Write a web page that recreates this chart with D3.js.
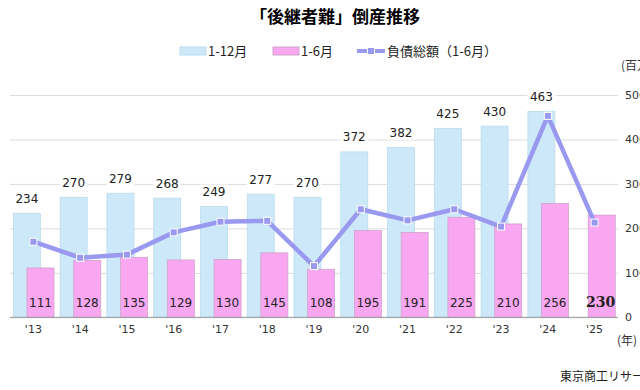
<!DOCTYPE html>
<html>
<head>
<meta charset="utf-8">
<script src="https://cdn.jsdelivr.net/npm/d3@7"></script>
<style>
  body { margin: 0; background: #fff; }
  svg { display: block; font-family: "Noto Sans CJK JP", "DejaVu Sans", sans-serif; }
</style>
</head>
<body>
<svg id="chart" width="640" height="390"></svg>
<script>
// data
var years = ["'13", "'14", "'15", "'16", "'17", "'18", "'19", "'20", "'21", "'22", "'23", "'24", "'25"];
var full_year = [234, 270, 279, 268, 249, 277, 270, 372, 382, 425, 430, 463, null];
var half_year = [111, 128, 135, 129, 130, 145, 108, 195, 191, 225, 210, 256, 230];
var debt_half = [17000, 13400, 14100, 19100, 21500, 21700, 11500, 24300, 21800, 24300, 20400, 45300, 21300];
var right_ticks = [0, 10000, 20000, 30000, 40000, 50000];

var colors = { blue: "#cde9f9", blue_edge: "#b9dcef", pink: "#f9a7f1", pink_edge: "#cfa3cc", line: "#9999f0" };

var svg = d3.select("#chart");
var left = 10, right = 618, top_y = 95, base_y = 317.3;

// scales
var x = d3.scaleBand().domain(years).range([left, right]).padding(0);
var y = d3.scaleLinear().domain([0, 500]).range([base_y, top_y]);
var y2 = d3.scaleLinear().domain([0, 50000]).range([base_y, top_y]);

// ==================================================
// title
svg.append("text")
   .attr("x", 335).attr("y", 23)
   .attr("text-anchor", "middle")
   .style("font-size", "17px").style("font-weight", "bold")
   .text("「後継者難」倒産推移");

// ==================================================
// legend
var lg = svg.append("g").style("font-size", "13px").style("fill", "#222");
lg.append("rect").attr("x", 180).attr("y", 47).attr("width", 26).attr("height", 8)
  .style("fill", colors.blue).style("stroke", colors.blue_edge);
lg.append("text").attr("x", 208).attr("y", 56).text("1-12月");
lg.append("rect").attr("x", 273).attr("y", 47).attr("width", 26).attr("height", 8)
  .style("fill", colors.pink).style("stroke", colors.pink_edge);
lg.append("text").attr("x", 301).attr("y", 56).text("1-6月");
lg.append("line").attr("x1", 357).attr("x2", 385).attr("y1", 51).attr("y2", 51)
  .style("stroke", colors.line).style("stroke-width", 4);
lg.append("rect").attr("x", 367.5).attr("y", 47.5).attr("width", 7).attr("height", 7)
  .style("fill", colors.line).style("stroke", "#fff");
lg.append("text").attr("x", 387).attr("y", 56).text("負債総額（1-6月）");

// ==================================================
// grid lines + right axis
var y_axis = svg.append("g")
  .attr("transform", "translate(" + right + ",0)")
  .call(d3.axisRight(y2).tickValues(right_ticks).tickSize(-(right - left)).tickPadding(7).tickFormat(d3.format("d")));
y_axis.select(".domain").remove();
y_axis.selectAll(".tick line").style("stroke", "#dcdcdc");
y_axis.selectAll(".tick text").style("font-family", "DejaVu Sans, sans-serif").style("font-size", "11px").style("fill", "#333");

svg.append("text").attr("x", 621).attr("y", 70).style("font-size", "12px").style("fill", "#333").text("(百万円)");

// ==================================================
// bars
var bw = 27;
var groups = svg.selectAll(".bar").data(years).enter().append("g").attr("class", "bar");

groups.filter(function(d, i) { return full_year[i] != null; })
  .append("rect")
  .attr("x", function(d) { return x(d) + 3.4; })
  .attr("y", function(d) { return y(full_year[years.indexOf(d)]); })
  .attr("width", bw)
  .attr("height", function(d) { return base_y - y(full_year[years.indexOf(d)]); })
  .style("fill", colors.blue).style("stroke", colors.blue_edge).style("stroke-width", 0.8);

groups.append("rect")
  .attr("x", function(d) { return x(d) + 17; })
  .attr("y", function(d, i) { return y(half_year[i]); })
  .attr("width", bw)
  .attr("height", function(d, i) { return base_y - y(half_year[i]); })
  .style("fill", colors.pink).style("stroke", colors.pink_edge).style("stroke-width", 0.8);

// x baseline
svg.append("line").attr("x1", left).attr("x2", right).attr("y1", base_y).attr("y2", base_y)
   .style("stroke", "#999").style("stroke-width", 1);

// ==================================================
// labels for 1-12 bars (white box behind, cuts gridlines)
var lab = svg.append("g").style("font-family", "DejaVu Sans, sans-serif").style("font-size", "12px");
years.forEach(function(d, i) {
  if (full_year[i] == null) return;
  var cx = x(d) + 3.4 + bw / 2;
  var cy = y(full_year[i]) - 15;
  lab.append("rect").attr("x", cx - 14).attr("y", cy - 7).attr("width", 28).attr("height", 14).style("fill", "#fff");
  lab.append("text").attr("x", cx).attr("y", cy + 4.5).attr("text-anchor", "middle").style("fill", "#222").text(full_year[i]);
});

// labels inside 1-6 bars
years.forEach(function(d, i) {
  var cx = x(d) + 17 + bw / 2;
  var last = i == years.length - 1;
  lab.append("text").attr("x", last ? cx - 1 : cx).attr("y", 307)
     .attr("text-anchor", "middle")
     .style("fill", "#222")
     .style("font-family", last ? "DejaVu Serif, serif" : null)
     .style("font-weight", last ? "bold" : null)
     .style("font-size", last ? "14px" : null)
     .text(half_year[i]);
});

// ==================================================
// debt line
var line = d3.line()
  .x(function(d, i) { return x(years[i]) + x.bandwidth() / 2; })
  .y(function(d) { return y2(d); });

svg.append("path").datum(debt_half).attr("d", line)
   .style("fill", "none").style("stroke", colors.line).style("stroke-width", 4.5).style("stroke-linejoin", "round");

svg.selectAll(".pt").data(debt_half).enter().append("rect")
   .attr("class", "pt")
   .attr("x", function(d, i) { return x(years[i]) + x.bandwidth() / 2 - 3.5; })
   .attr("y", function(d) { return y2(d) - 3.5; })
   .attr("width", 7).attr("height", 7)
   .style("fill", colors.line).style("stroke", "#fff").style("stroke-width", 1);

// ==================================================
// x axis labels
var x_axis = svg.append("g")
  .attr("transform", "translate(0," + base_y + ")")
  .call(d3.axisBottom(x).tickSize(0).tickPadding(8));
x_axis.select(".domain").remove();
x_axis.selectAll("text").style("font-family", "DejaVu Sans, sans-serif").style("font-size", "11px").style("fill", "#333");

svg.append("text").attr("x", 617).attr("y", 345).style("font-size", "12px").style("fill", "#333").text("(年)");
svg.append("text").attr("x", 560).attr("y", 381).style("font-size", "12px").style("fill", "#222").text("東京商工リサーチ");
</script>
</body>
</html>
